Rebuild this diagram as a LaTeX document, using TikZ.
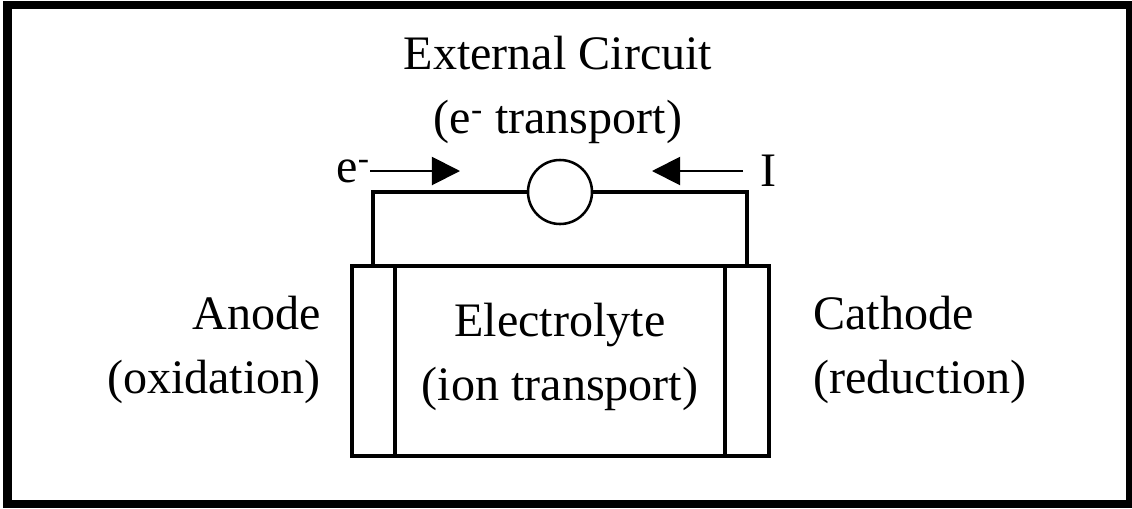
\documentclass[tikz,border=0pt]{standalone}
\usepackage{fontspec}
\setmainfont{Liberation Serif}
\usetikzlibrary{arrows.meta, positioning}

\begin{document}
\begin{tikzpicture}[
    x=0.025cm, y=-0.025cm,
    electrode/.style={
      rectangle,
      draw=black,
      line width=2.9pt,
      minimum height=4.75cm,
      inner sep=0pt,
      outer sep=0pt
    },
    cellbox/.style={
      rectangle,
      draw=black,
      line width=2.9pt,
      align=center,
      minimum width=8.25cm,
      minimum height=4.75cm,
      inner sep=0pt,
      outer sep=0pt,
      text depth=13pt,
      font=\fontsize{34.2}{45}\selectfont
    },
    meter/.style={
      circle,
      draw=black,
      line width=1.8pt,
      minimum size=1.6cm,
      inner sep=0pt
    },
    wire/.style={line width=2.9pt},
    flow/.style={-{Triangle[length=20pt, width=20pt]}, line width=1.4pt},
    lbl/.style={inner sep=0pt, font=\fontsize{34.2}{45}\selectfont}
  ]
    \useasboundingbox (0,0) rectangle (1132,508);
    \draw[line width=5.7pt] (7.5,5) rectangle (1130,504);

    \node[cellbox] (electrolyte) at (560,361) {Electrolyte\\(ion transport)};
    \node[electrode, minimum width=1.075cm, left=0pt of electrolyte] (anode) {};
    \node[electrode, minimum width=1.1cm, right=0pt of electrolyte] (cathode) {};
    \node[meter] (meter) at (560,192) {};

    \draw[wire] (anode.north) |- (meter.west);
    \draw[wire] (cathode.north) |- (meter.east);

    \node[lbl, align=center] (extlabel) at (558,90) {External Circuit\\(e\textsuperscript{-} transport)};
    \node[lbl, align=right, anchor=east] (anodelabel) at (321,350) {Anode\\(oxidation)};
    \node[lbl, align=left, anchor=west] (cathodelabel) at (813,350) {Cathode\\(reduction)};

    \coordinate (etail) at (370,171);
    \coordinate (etip) at (460,171);
    \coordinate (itail) at (743,171);
    \coordinate (itip) at (652,171);
    \node[lbl, left=0pt of etail] (eminus) {e\textsuperscript{-}};
    \node[lbl, right=12pt of itail] (ilabel) {I};

    \draw[flow] (etail) -- (etip);
    \draw[flow] (itail) -- (itip);
  \end{tikzpicture}
\end{document}
